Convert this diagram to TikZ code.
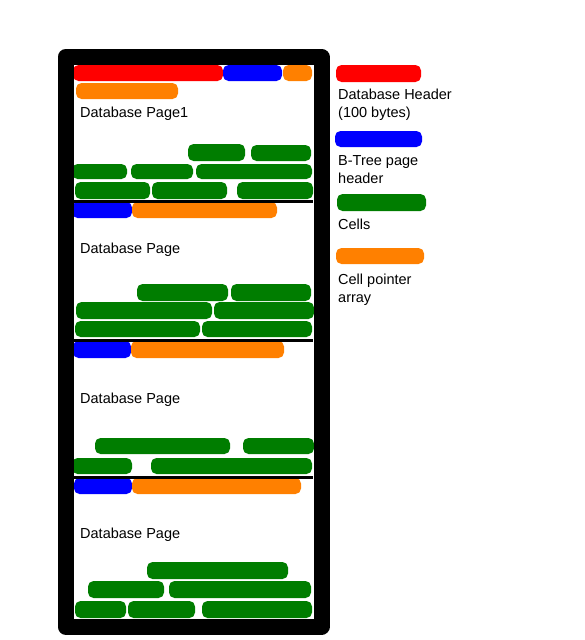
\documentclass[tikz,border=0pt]{standalone}
\usepackage{fontspec}
\setmainfont{Liberation Sans}
\definecolor{hdrred}{RGB}{255,0,0}
\definecolor{treeblue}{RGB}{0,0,255}
\definecolor{cellgreen}{RGB}{0,125,0}
\definecolor{ptrorange}{RGB}{255,128,0}
\tikzset{
  seg/.style={rounded corners=5.5pt},
  frame/.style={line width=16pt, line join=round},
  divider/.style={line width=3pt},
  lbl/.style={anchor=west, inner sep=0pt, font=\fontsize{14.5}{18}\selectfont},
  legendtxt/.style={anchor=west, inner sep=0pt, align=left, font=\fontsize{14.5}{18}\selectfont}
}
% \segment{colour}{x1}{y1}{x2}{y2}: one rounded storage block
\newcommand\segment[5]{\fill[seg,#1] (#2,#3) rectangle (#4,#5);}
\begin{document}
\begin{tikzpicture}[x=1pt,y=-1pt]
\useasboundingbox (0,0) rectangle (585,640);

% ---- page 1 ----
\segment{hdrred}{73}{65}{223}{81}
\segment{treeblue}{223}{65}{282}{81}
\segment{ptrorange}{283}{65}{312}{81}
\segment{ptrorange}{76}{83}{178}{99}
\node[lbl] (p1) at (80,113.5) {Database Page1};
\segment{cellgreen}{188}{144}{245}{161}
\segment{cellgreen}{251}{145}{311}{161}
\segment{cellgreen}{72}{164}{127}{179}
\segment{cellgreen}{131}{164}{193}{179}
\segment{cellgreen}{196}{164}{312}{179}
\segment{cellgreen}{75}{182}{150}{199}
\segment{cellgreen}{152}{182}{227}{199}
\segment{cellgreen}{237}{182}{313}{199}

% ---- page 2 ----
\segment{treeblue}{72}{202}{132}{218}
\segment{ptrorange}{132}{202}{277}{218}
\node[lbl] (p2) at (80,249.5) {Database Page};
\segment{cellgreen}{137}{284}{228}{301}
\segment{cellgreen}{231}{284}{311}{301}
\segment{cellgreen}{76}{302}{212}{319}
\segment{cellgreen}{214}{302}{314}{319}
\segment{cellgreen}{75}{321}{200}{337}
\segment{cellgreen}{202}{321}{312}{337}

% ---- page 3 ----
\segment{treeblue}{73}{341}{131}{358}
\segment{ptrorange}{131}{341}{284}{358}
\node[lbl] (p3) at (80,399.5) {Database Page};
\segment{cellgreen}{95}{438}{230}{454}
\segment{cellgreen}{243}{438}{314}{454}
\segment{cellgreen}{72}{458}{132}{474}
\segment{cellgreen}{151}{458}{312}{474}

% ---- page 4 ----
\segment{treeblue}{74}{478}{132}{494}
\segment{ptrorange}{132}{478}{301}{494}
\node[lbl] (p4) at (80,534.5) {Database Page};
\segment{cellgreen}{147}{562}{288}{579}
\segment{cellgreen}{88}{581}{164}{598}
\segment{cellgreen}{169}{581}{311}{598}
\segment{cellgreen}{75}{601}{126}{618}
\segment{cellgreen}{128}{601}{195}{618}
\segment{cellgreen}{202}{601}{312}{618}

% ---- page boundaries and file outline ----
\draw[divider] (73,201) -- (313,201);
\draw[divider] (73,340) -- (313,340);
\draw[divider] (73,477) -- (313,477);
\draw[frame] (65.5,57) rectangle (321.5,626.5);

% ---- legend ----
\segment{hdrred}{336}{65}{421}{82}
\node[legendtxt] (l1) at (338,104.5) {Database Header\\(100 bytes)};
\segment{treeblue}{335}{131}{422}{147}
\node[legendtxt] (l2) at (338,169.5) {B-Tree page\\header};
\segment{cellgreen}{337}{194}{426}{211}
\node[legendtxt] (l3) at (338,224.5) {Cells};
\segment{ptrorange}{336}{248}{424}{264}
\node[legendtxt] (l4) at (338,289.5) {Cell pointer\\array};
\end{tikzpicture}
\end{document}
